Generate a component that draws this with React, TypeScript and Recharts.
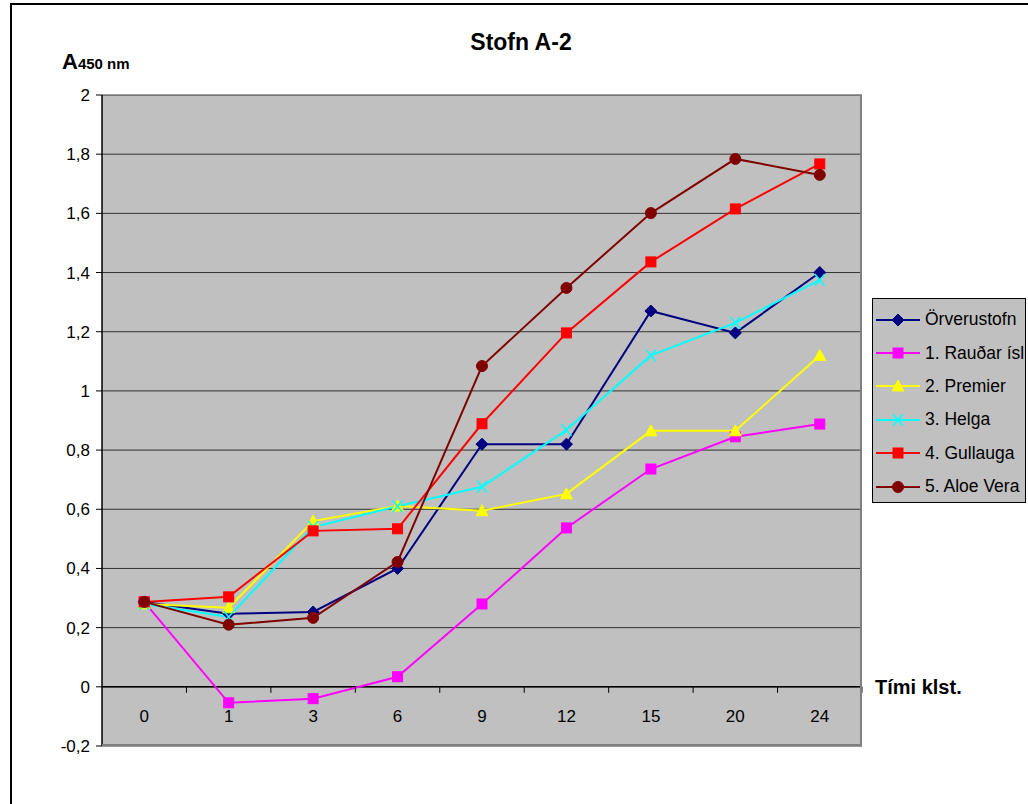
import React from 'react';
import {
  LineChart,
  Line,
  XAxis,
  YAxis,
  CartesianGrid,
  ReferenceLine,
  ReferenceDot,
} from 'recharts';

const categories = ['0', '1', '3', '6', '9', '12', '15', '20', '24'];
const orverustofn = [0.287, 0.247, 0.253, 0.4, 0.82, 0.82, 1.27, 1.196, 1.4];
const raudarIsl = [0.287, -0.054, -0.04, 0.034, 0.28, 0.537, 0.736, 0.845, 0.888];
const premier = [0.28, 0.267, 0.56, 0.611, 0.595, 0.652, 0.865, 0.865, 1.12];
const helga = [0.28, 0.236, 0.54, 0.61, 0.676, 0.868, 1.12, 1.23, 1.375];
const gullauga = [0.287, 0.304, 0.527, 0.534, 0.889, 1.196, 1.436, 1.615, 1.767];
const aloeVera = [0.287, 0.21, 0.233, 0.422, 1.084, 1.348, 1.601, 1.784, 1.73];
const yTicks = [-0.2, 0, 0.2, 0.4, 0.6, 0.8, 1, 1.2, 1.4, 1.6, 1.8, 2];

const seriesDefs = [
  { key: 's0', name: 'Örverustofn', values: orverustofn, color: '#000080', marker: 'diamond' },
  { key: 's1', name: '1. Rauðar ísl', values: raudarIsl, color: '#FF00FF', marker: 'square' },
  { key: 's2', name: '2. Premier', values: premier, color: '#FFFF00', marker: 'triangle' },
  { key: 's3', name: '3. Helga', values: helga, color: '#00FFFF', marker: 'x' },
  { key: 's4', name: '4. Gullauga', values: gullauga, color: '#FF0000', marker: 'square' },
  { key: 's5', name: '5. Aloe Vera', values: aloeVera, color: '#800000', marker: 'circle' },
];

const data = categories.map((t, i) => {
  const row: any = { t };
  seriesDefs.forEach((s) => {
    row[s.key] = s.values[i];
  });
  return row;
});

const W = 1028;
const H = 804;
const M = { top: 95, right: 166, bottom: 58, left: 42 };
const Y_W = 60;
const PLOT_L = M.left + Y_W;
const PLOT_W = W - M.left - M.right - Y_W;
const PLOT_H = H - M.top - M.bottom;
const HALF = PLOT_W / categories.length / 2;
const FONT = '"Liberation Sans", Arial, sans-serif';

function Marker({ cx, cy, kind, color }: any) {
  if (cx == null || cy == null) return null;
  switch (kind) {
    case 'diamond':
      return (
        <polygon
          points={`${cx},${cy - 6} ${cx + 6},${cy} ${cx},${cy + 6} ${cx - 6},${cy}`}
          fill={color}
          stroke={color}
        />
      );
    case 'square':
      return <rect x={cx - 5} y={cy - 5} width={10} height={10} fill={color} stroke={color} />;
    case 'triangle':
      return (
        <polygon
          points={`${cx},${cy - 6} ${cx + 6},${cy + 5} ${cx - 6},${cy + 5}`}
          fill={color}
          stroke={color}
        />
      );
    case 'x':
      return (
        <g stroke={color} strokeWidth={1.5}>
          <line x1={cx - 5} y1={cy - 6} x2={cx + 5} y2={cy + 6} />
          <line x1={cx - 5} y1={cy + 6} x2={cx + 5} y2={cy - 6} />
        </g>
      );
    case 'circle':
    default:
      return <circle cx={cx} cy={cy} r={5.5} fill={color} stroke={color} />;
  }
}

function LegendBox() {
  return (
    <div
      style={{
        position: 'absolute',
        left: 872,
        top: 298,
        width: 154,
        height: 205,
        border: '1.5px solid #000',
        background: '#C0C0C0',
        boxSizing: 'border-box',
        fontFamily: FONT,
        fontSize: 17.5,
        color: '#000',
        paddingTop: 4,
        overflow: 'hidden',
        whiteSpace: 'nowrap',
      }}
    >
      {seriesDefs.map((s) => (
        <div key={s.key} style={{ height: 33.4, display: 'flex', alignItems: 'center' }}>
          <svg width={52} height={20} style={{ flex: 'none' }}>
            <line x1={3} y1={10} x2={47} y2={10} stroke={s.color} strokeWidth={2} />
            <Marker cx={25} cy={10} kind={s.marker} color={s.color} />
          </svg>
          <span>{s.name}</span>
        </div>
      ))}
    </div>
  );
}

const fmt = (v: number) => String(Math.round(v * 10) / 10).replace('.', ',');

export default function App() {
  return (
    <div
      style={{
        position: 'absolute',
        left: 0,
        top: 0,
        width: W,
        height: H,
        overflow: 'hidden',
        background: '#fff',
        fontFamily: FONT,
      }}
    >
      <div
        style={{
          position: 'absolute',
          left: 10,
          top: 3,
          width: 1200,
          height: 1000,
          borderLeft: '2px solid #000',
          borderTop: '2px solid #000',
        }}
      />
      <div
        style={{
          position: 'absolute',
          left: 0,
          width: 1042,
          top: 29,
          textAlign: 'center',
          fontWeight: 'bold',
          fontSize: 23,
        }}
      >
        Stofn A-2
      </div>
      <div
        style={{
          position: 'absolute',
          left: 62,
          top: 49,
          fontWeight: 'bold',
          whiteSpace: 'nowrap',
          letterSpacing: 0,
        }}
      >
        <span style={{ fontSize: 22 }}>A</span>
        <span style={{ fontSize: 15 }}>450 nm</span>
      </div>
      <div
        style={{
          position: 'absolute',
          left: 875,
          top: 676,
          fontWeight: 'bold',
          fontSize: 20,
          whiteSpace: 'nowrap',
        }}
      >
        Tími klst.
      </div>
      <div style={{ position: 'absolute', left: 0, top: 0 }}>
        <LineChart width={W} height={H} data={data} margin={M} style={{ fontFamily: FONT }}>
          <CartesianGrid vertical={false} fill="#C0C0C0" stroke="#333" strokeWidth={1} />
          <XAxis dataKey="t" type="category" hide padding={{ left: HALF, right: HALF }} />
          <YAxis
            width={Y_W}
            domain={[-0.2, 2]}
            ticks={yTicks}
            tickFormatter={fmt}
            axisLine={{ stroke: '#000', strokeWidth: 1.5 }}
            tickLine={{ stroke: '#000' }}
            tickSize={6}
            tickMargin={6}
            tick={{ fill: '#000', fontSize: 17 }}
            interval={0}
            allowDataOverflow
          />
          <ReferenceLine y={0} stroke="#000" strokeWidth={1.5} />
          {categories.map((c) => (
            <ReferenceDot
              key={'lbl' + c}
              x={c}
              y={0}
              shape={(p: any) => (
                <g>
                  <line x1={p.cx + HALF} y1={p.cy} x2={p.cx + HALF} y2={p.cy + 6} stroke="#000" />
                  <text
                    x={p.cx}
                    y={p.cy + 35}
                    textAnchor="middle"
                    fontSize={17}
                    fill="#000"
                    fontFamily={FONT}
                  >
                    {c}
                  </text>
                </g>
              )}
            />
          ))}
          {seriesDefs.map((s) => (
            <Line
              key={s.key}
              dataKey={s.key}
              name={s.name}
              stroke={s.color}
              strokeWidth={2}
              isAnimationActive={false}
              dot={(p: any) => (
                <Marker key={s.key + '-' + p.index} cx={p.cx} cy={p.cy} kind={s.marker} color={s.color} />
              )}
              activeDot={false}
            />
          ))}
        </LineChart>
      </div>
      <div
        style={{
          position: 'absolute',
          left: PLOT_L,
          top: M.top,
          width: PLOT_W,
          height: PLOT_H,
          borderRight: '2px solid #808080',
          borderBottom: '2px solid #808080',
          boxSizing: 'border-box',
          pointerEvents: 'none',
        }}
      />
      <LegendBox />
    </div>
  );
}
